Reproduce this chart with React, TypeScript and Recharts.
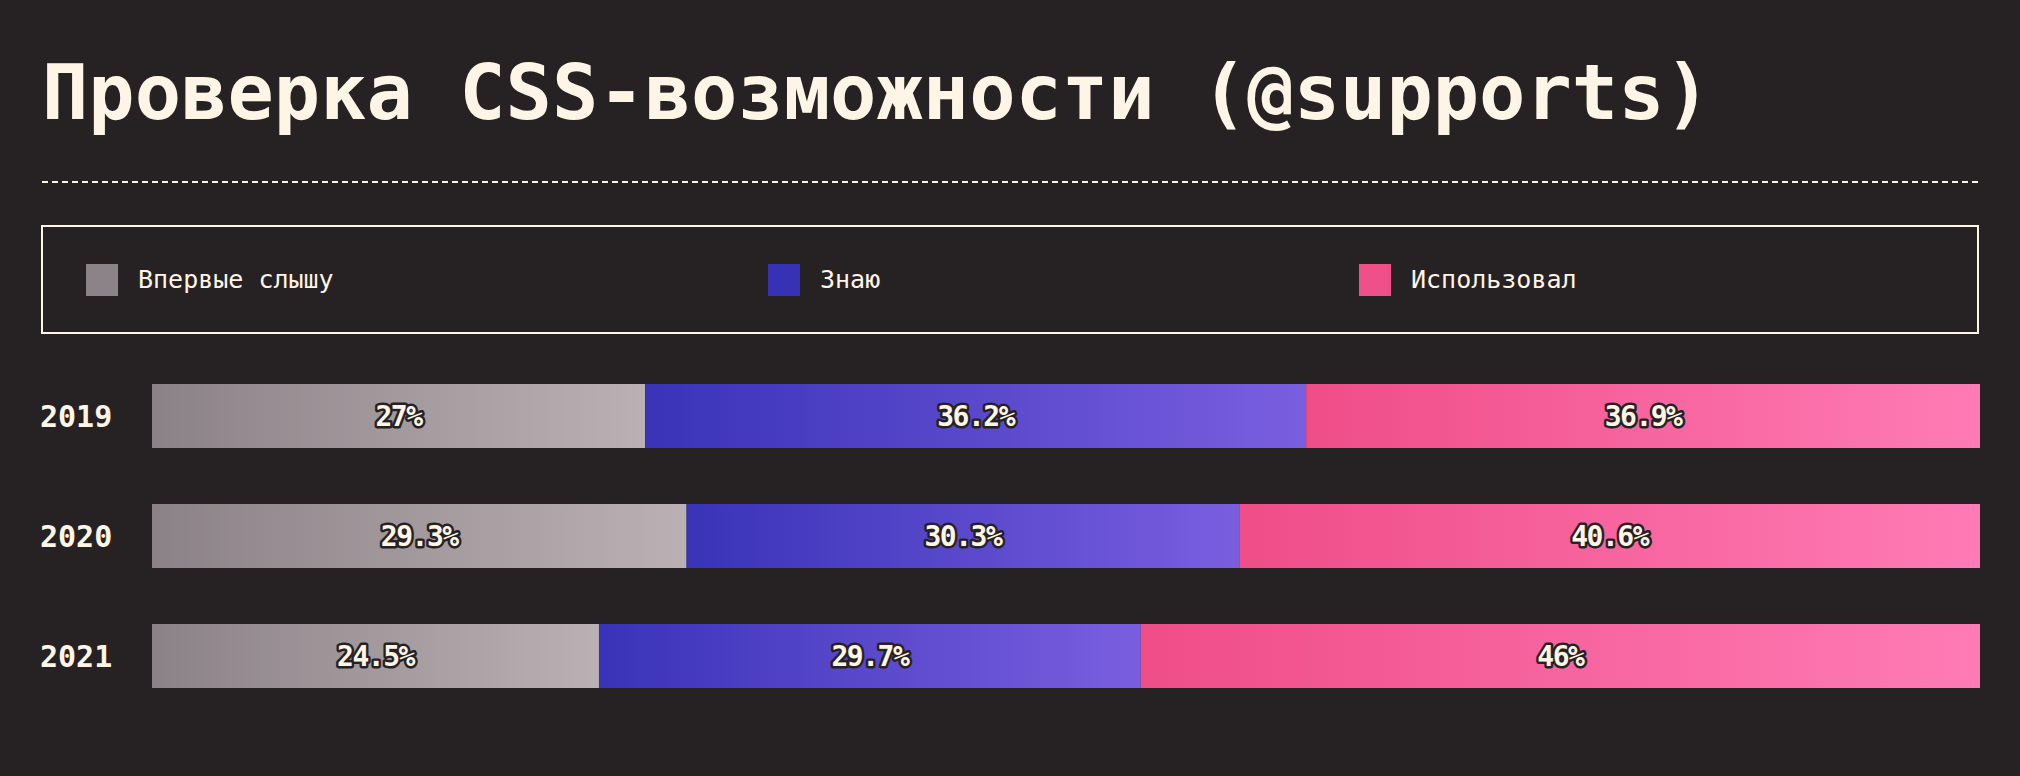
import React from "react";
import { Bar, BarChart, LabelList, Legend, XAxis, YAxis } from "recharts";

const years = ["2019", "2020", "2021"];
const heardValues = [27, 29.3, 24.5];
const knowValues = [36.2, 30.3, 29.7];
const usedValues = [36.9, 40.6, 46];
const seriesNames = ["Впервые слышу", "Знаю", "Использовал"];

const data = years.map((year, i) => ({
  year,
  heard: heardValues[i],
  know: knowValues[i],
  used: usedValues[i],
}));

const BG = "#262223";
const CREAM = "#fff5e6";
const MONO = "'DejaVu Sans Mono', monospace";

const series = [
  { key: "heard", grad: "gradHeard", from: "#8b8287", to: "#bbb1b4", swatch: "#8c8388" },
  { key: "know", grad: "gradKnow", from: "#3933b8", to: "#7a5ee0", swatch: "#3631b5" },
  { key: "used", grad: "gradUsed", from: "#ef4d88", to: "#ff7bb5", swatch: "#f0508a" },
];

const legendWidths = [682, 591, 400];

function renderLegend() {
  return (
    <div
      style={{
        boxSizing: "border-box",
        width: 1938,
        height: 109,
        border: `2px solid ${CREAM}`,
        display: "flex",
        alignItems: "center",
        paddingLeft: 43,
      }}
    >
      {seriesNames.map((name, i) => (
        <div
          key={name}
          style={{ display: "flex", alignItems: "center", width: legendWidths[i] }}
        >
          <span
            style={{
              display: "inline-block",
              width: 32,
              height: 32,
              background: series[i].swatch,
              marginRight: 20,
            }}
          />
          <span style={{ fontFamily: MONO, fontSize: 25, color: CREAM }}>{name}</span>
        </div>
      ))}
    </div>
  );
}

function renderValue(props: any) {
  const vb = props.viewBox || props;
  const { x, y, width, height } = vb;
  return (
    <text
      x={x + width / 2}
      y={y + height / 2}
      dy="0.36em"
      textAnchor="middle"
      fontFamily={MONO}
      fontWeight="bold"
      fontSize={28}
      letterSpacing={-1.5}
      fill={CREAM}
      stroke={BG}
      strokeWidth={5}
      strokeLinejoin="round"
      paintOrder="stroke"
    >
      {`${props.value}%`}
    </text>
  );
}

function YearTick({ y, payload }: any) {
  return (
    <text
      x={40}
      y={y}
      dy="0.36em"
      textAnchor="start"
      fontFamily={MONO}
      fontWeight="bold"
      fontSize={30}
      fill={CREAM}
    >
      {payload.value}
    </text>
  );
}

export default function App() {
  return (
    <div
      style={{
        position: "absolute",
        left: 0,
        top: 0,
        width: 2020,
        height: 776,
        background: BG,
        overflow: "hidden",
      }}
    >
      <svg width={2020} height={225} style={{ position: "absolute", left: 0, top: 0 }}>
        <text
          x={42}
          y={119}
          fontFamily={MONO}
          fontWeight="bold"
          fontSize={77}
          fill={CREAM}
        >
          Проверка CSS-возможности (@supports)
        </text>
        <line
          x1={42}
          x2={1980}
          y1={182}
          y2={182}
          stroke={CREAM}
          strokeWidth={2}
          strokeDasharray="6 4"
        />
      </svg>
      <div style={{ position: "absolute", left: 0, top: 225 }}>
        <BarChart
          width={2020}
          height={551}
          data={data}
          layout="vertical"
          stackOffset="expand"
          barSize={64}
          margin={{ top: 22, right: 40, bottom: 60, left: 0 }}
        >
          <defs>
            {series.map((s) => (
              <linearGradient key={s.grad} id={s.grad} x1="0" y1="0" x2="1" y2="0">
                <stop offset="0%" stopColor={s.from} />
                <stop offset="100%" stopColor={s.to} />
              </linearGradient>
            ))}
          </defs>
          <Legend
            verticalAlign="top"
            align="left"
            content={renderLegend}
            wrapperStyle={{ left: 41, top: 0, width: 1938, height: 109 }}
          />
          <XAxis type="number" hide />
          <YAxis
            type="category"
            dataKey="year"
            width={152}
            axisLine={false}
            tickLine={false}
            tick={<YearTick />}
          />
          {series.map((s, i) => (
            <Bar
              key={s.key}
              dataKey={s.key}
              name={seriesNames[i]}
              stackId="a"
              fill={`url(#${s.grad})`}
              isAnimationActive={false}
            >
              <LabelList dataKey={s.key} content={renderValue} />
            </Bar>
          ))}
        </BarChart>
      </div>
    </div>
  );
}
